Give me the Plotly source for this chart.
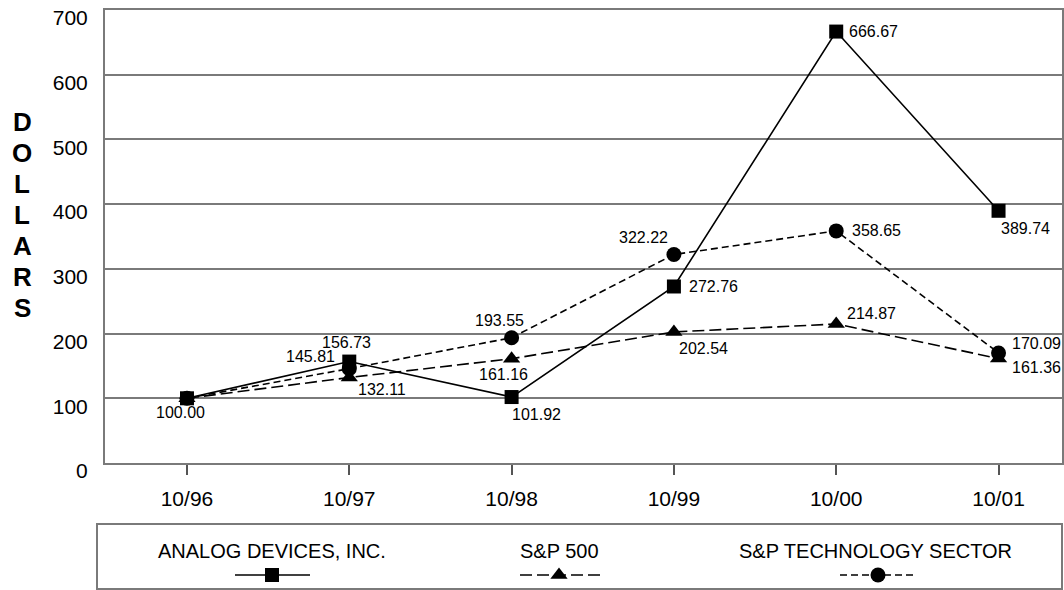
import plotly.graph_objects as go

# ---------------- data ----------------
periods = ["10/96", "10/97", "10/98", "10/99", "10/00", "10/01"]
adi = [100.00, 156.73, 101.92, 272.76, 666.67, 389.74]
sp500 = [100.00, 132.11, 161.16, 202.54, 214.87, 161.36]
sptech = [100.00, 145.81, 193.55, 322.22, 358.65, 170.09]
y_ticks = [0, 100, 200, 300, 400, 500, 600, 700]
series_names = ["ANALOG DEVICES, INC.", "S&P 500", "S&P TECHNOLOGY SECTOR"]
axis_title = "DOLLARS"

# label offsets in pixels (dx, dy up); None = no label
adi_lab = [(-6, -14), (-3, 19), (25, -17), (40, 0), (37, 0), (27, -18)]
sp_lab = [None, (33, -12), (-8, -16), (30, -17), (35, 10), (38, -9)]
tech_lab = [None, (-39, 12), (-12, 17), (-30, 17), (40, 0), (38, 9)]

FONT = "Liberation Sans, Arial, Helvetica, sans-serif"
GRID = "#7a7a7a"
xi = list(range(len(periods)))

fig = go.Figure()

styles = [
    (adi, "solid", "square", 14, adi_lab),
    (sp500, "12px,5px", "triangle-up", 15, sp_lab),
    (sptech, "7px,4px", "circle", 15, tech_lab),
]
for (vals, dash, sym, msize, labs), name in zip(styles, series_names):
    fig.add_trace(go.Scatter(
        x=xi, y=vals, mode="lines+markers", name=name,
        line=dict(color="black", width=1.6, dash=dash),
        marker=dict(symbol=sym, size=msize, color="black"),
        cliponaxis=False, showlegend=False,
    ))
    for i, v in enumerate(vals):
        if labs[i] is None:
            continue
        dx, dy = labs[i]
        fig.add_annotation(x=xi[i], y=v, xref="x", yref="y", text=f"{v:.2f}",
                           showarrow=False, xshift=dx, yshift=dy,
                           xanchor="center", yanchor="middle",
                           font=dict(family=FONT, size=16, color="black"))

# ---------------- legend (custom, text above sample) ----------------
leg_centers = [272, 559, 875]
leg_samples = [(235, 310), (520, 600), (840, 913)]
leg_marker_x = [272, 559, 878]
leg_y_text = 551
leg_y_sample = 575
for (vals, dash, sym, msize, labs), name, cx, (s0, s1), mx in zip(
        styles, series_names, leg_centers, leg_samples, leg_marker_x):
    fig.add_trace(go.Scatter(
        x=[s0, s1], y=[leg_y_sample, leg_y_sample], mode="lines",
        line=dict(color="black", width=1.6, dash=dash),
        xaxis="x2", yaxis="y2", showlegend=False, hoverinfo="skip"))
    fig.add_trace(go.Scatter(
        x=[mx], y=[leg_y_sample], mode="markers",
        marker=dict(symbol=sym, size=msize, color="black"),
        xaxis="x2", yaxis="y2", showlegend=False, hoverinfo="skip",
        cliponaxis=False))
    fig.add_annotation(x=cx, y=leg_y_text, xref="x2", yref="y2", text=name,
                       showarrow=False, xanchor="center", yanchor="middle",
                       font=dict(family=FONT, size=20, color="black"))

# legend box
fig.add_shape(type="rect", xref="paper", yref="paper",
              x0=0, x1=1.0, y0=(590 - 589) / 580, y1=(590 - 524) / 580,
              line=dict(color=GRID, width=2), fillcolor="rgba(0,0,0,0)")

# vertical stacked axis title
for k, ch in enumerate(axis_title):
    py = 122 + 31 * k
    fig.add_annotation(x=(22 - 97) / 965, y=(590 - py) / 580,
                       xref="paper", yref="paper", text=f"<b>{ch}</b>",
                       showarrow=False, xanchor="center", yanchor="middle",
                       font=dict(family=FONT, size=26, color="black"))

fig.update_layout(
    width=1064, height=590,
    margin=dict(l=97, r=2, t=10, b=0, autoexpand=False),
    paper_bgcolor="white", plot_bgcolor="white",
    showlegend=False,
    xaxis=dict(
        domain=[(105 - 97) / 965, 1.0],
        range=[-0.505, 5.391],
        tickvals=xi, ticktext=periods,
        showgrid=False, zeroline=False,
        showline=True, mirror=True, linecolor=GRID, linewidth=2,
        ticks="outside", ticklen=10, tickwidth=1.5, tickcolor="#555",
        tickfont=dict(family=FONT, size=21, color="black"),
        ticklabelstandoff=6, automargin=False,
        anchor="y",
    ),
    yaxis=dict(
        domain=[(590 - 463) / 580, 1.0],
        range=[0, 700],
        tickvals=y_ticks,
        showgrid=True, gridcolor=GRID, gridwidth=1.5,
        zeroline=False,
        showline=True, mirror=True, linecolor=GRID, linewidth=2,
        ticks="",
        tickfont=dict(family=FONT, size=21, color="black"),
        ticklabelshift=8, ticklabelstandoff=11, automargin=False,
        anchor="x",
    ),
    xaxis2=dict(domain=[0, 1], range=[97, 1062], visible=False, anchor="y2",
                fixedrange=True, automargin=False),
    yaxis2=dict(domain=[0, (590 - 523) / 580], range=[590, 523], visible=False,
                anchor="x2", fixedrange=True, automargin=False),
)

fig.write_html("out.html",
               config={"displayModeBar": False},
               post_script="document.body.style.margin='0';"
                           "document.documentElement.style.overflow='hidden';")
